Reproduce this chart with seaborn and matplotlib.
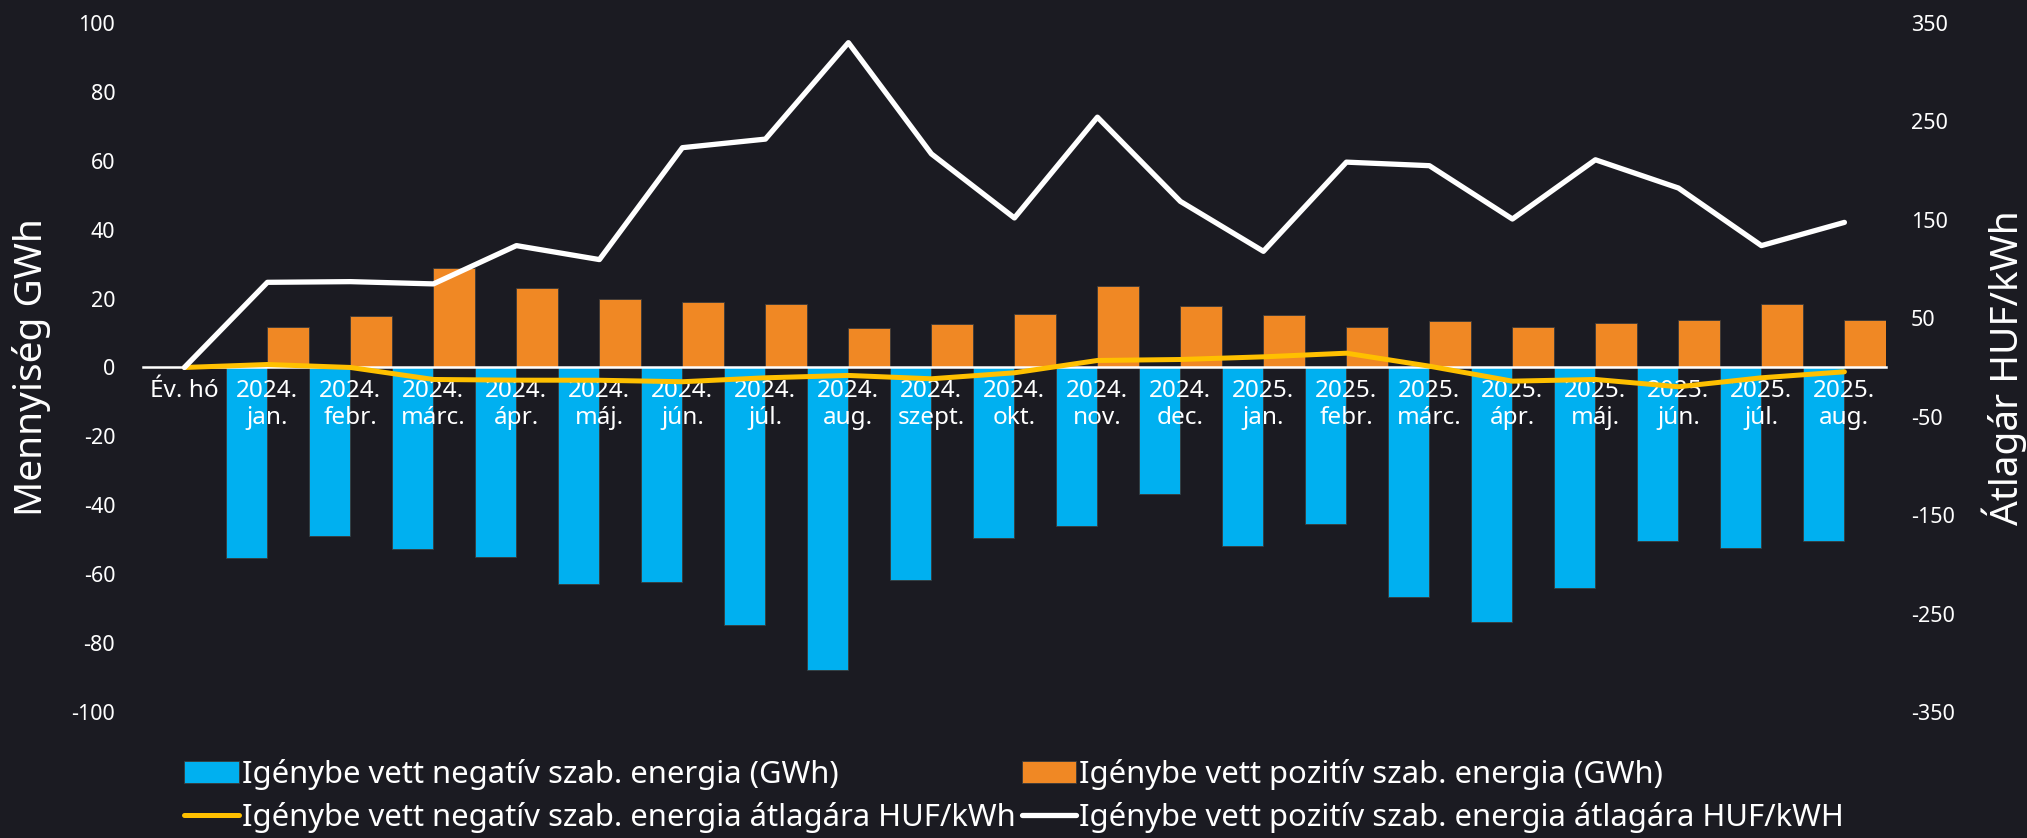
import numpy as np
import pandas as pd
import matplotlib.pyplot as plt
import seaborn as sns

# Categories and values
categories = ["Év. hó", "2024.\njan.", "2024.\nfebr.", "2024.\nmárc.", "2024.\nápr.",
              "2024.\nmáj.", "2024.\njún.", "2024.\njúl.", "2024.\naug.", "2024.\nszept.",
              "2024.\nokt.", "2024.\nnov.", "2024.\ndec.", "2025.\njan.", "2025.\nfebr.",
              "2025.\nmárc.", "2025.\nápr.", "2025.\nmáj.", "2025.\njún.", "2025.\njúl.",
              "2025.\naug."]

neg_gwh = [np.nan, -55.3, -49.0, -52.6, -54.9, -62.9, -62.2, -74.8, -87.7, -61.8,
           -49.4, -46.1, -36.6, -51.7, -45.3, -66.6, -73.9, -64.0, -50.5, -52.4, -50.5]
pos_gwh = [np.nan, 11.8, 14.8, 28.9, 23.1, 19.8, 19.1, 18.5, 11.5, 12.7,
           15.6, 23.6, 17.9, 15.3, 11.8, 13.5, 11.8, 12.8, 13.9, 18.3, 13.9]
neg_price = [0, 3.0, 0.0, -12.2, -12.9, -13.0, -14.5, -10.5, -8.1, -11.5,
             -5.4, 7.1, 8.1, 10.8, 14.5, 1.3, -13.9, -12.2, -19.6, -10.5, -4.4]
pos_price = [0, 86.5, 87.2, 84.9, 123.8, 109.6, 223.3, 232.0, 330.0, 217.0,
             151.9, 254.3, 168.7, 118.0, 208.6, 205.0, 150.8, 211.0, 182.3, 123.8, 147.4]

lbl_neg_bar = "Igénybe vett negatív szab. energia (GWh)"
lbl_pos_bar = "Igénybe vett pozitív szab. energia (GWh)"
lbl_neg_line = "Igénybe vett negatív szab. energia átlagára HUF/kWh"
lbl_pos_line = "Igénybe vett pozitív szab. energia átlagára HUF/kWH"

bg = "#1b1b22"
blue = "#00b0f0"
orange = "#f08824"
yellow = "#ffc000"

sns.set_theme(style="dark", rc={"axes.facecolor": bg, "figure.facecolor": bg,
                                "text.color": "white", "axes.labelcolor": "white",
                                "xtick.color": "white", "ytick.color": "white",
                                "axes.unicode_minus": False})
plt.rcParams["font.family"] = ["Noto Sans", "DejaVu Sans"]

bars = pd.DataFrame({
    "cat": categories * 2,
    "value": neg_gwh + pos_gwh,
    "series": [lbl_neg_bar] * len(categories) + [lbl_pos_bar] * len(categories),
})

fig = plt.figure(figsize=(20.27, 8.38), dpi=100)
ax = fig.add_axes([0.0705, 0.1504, 0.8599, 0.8222])

sns.barplot(data=bars, x="cat", y="value", hue="series", order=categories,
            palette=[blue, orange], saturation=1, width=1.0, errorbar=None, ax=ax,
            edgecolor="#3a3a3a", linewidth=0.6)

leg = ax.get_legend()
bar_handles = leg.legend_handles
leg.remove()

ax.set_axisbelow(False)
ax.set_ylim(-100, 100)
ax.set_yticks(np.arange(-100, 101, 20))
ax.set_xlim(-0.5, len(categories) - 0.5)
ax.set_xlabel("")
ax.set_ylabel("Mennyiség GWh", fontsize=28, va="center")
ax.yaxis.set_label_coords(-0.064, 0.5)
for s in ["top", "left", "right"]:
    ax.spines[s].set_visible(False)
ax.spines["bottom"].set_position(("data", 0))
ax.spines["bottom"].set_color("white")
ax.spines["bottom"].set_linewidth(1.8)
ax.tick_params(axis="x", length=0, pad=8, labelsize=17.5)
ax.tick_params(axis="y", length=0, pad=20, labelsize=15.5)
ax.grid(False)

ax2 = ax.twinx()
x = np.arange(len(categories))
sns.lineplot(x=x, y=neg_price, ax=ax2, color=yellow, linewidth=3.6, label=lbl_neg_line, sort=False)
sns.lineplot(x=x, y=pos_price, ax=ax2, color="white", linewidth=3.8, label=lbl_pos_line, sort=False)
line_handles, line_labels = ax2.get_legend_handles_labels()
ax2.get_legend().remove()

ax2.set_ylim(-350, 350)
ax2.set_yticks(np.arange(-350, 351, 100))
ax2.set_ylabel("Átlagár HUF/kWh", fontsize=28, va="center", rotation=90)
ax2.yaxis.set_label_coords(1.0677, 0.5)
for s in ["top", "left", "right", "bottom"]:
    ax2.spines[s].set_visible(False)
ax2.tick_params(axis="y", length=0, pad=18, labelsize=15.5)
ax2.grid(False)

handles = [bar_handles[0], line_handles[0], bar_handles[1], line_handles[1]]
labels = [lbl_neg_bar, lbl_neg_line, lbl_pos_bar, lbl_pos_line]
fig.legend(handles, labels, loc="center left", bbox_to_anchor=(0.091, 0.05),
           ncol=2, frameon=False, fontsize=22.3, handlelength=1.75, handleheight=0.7,
           handletextpad=0.1, columnspacing=0.2, labelspacing=0.4, borderpad=0,
           borderaxespad=0)

fig.savefig("out.png", dpi=100, facecolor=bg)
